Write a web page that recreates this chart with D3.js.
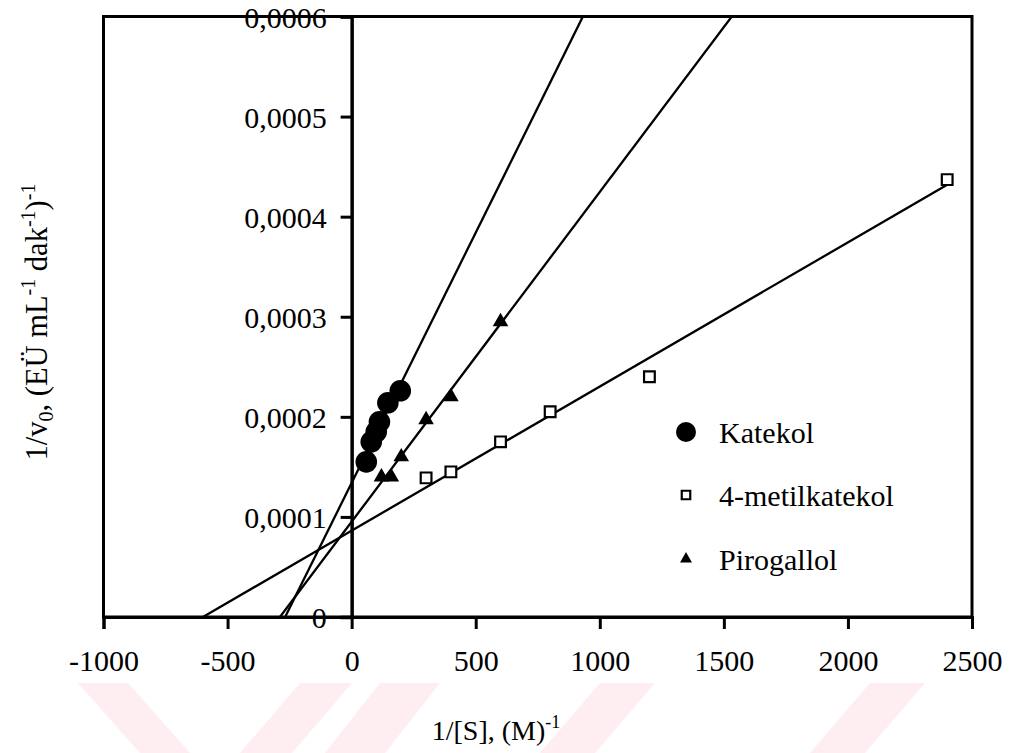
<!DOCTYPE html>
<html>
<head>
<meta charset="utf-8">
<script src="https://cdn.jsdelivr.net/npm/d3@7"></script>
<style>
  html, body { margin: 0; padding: 0; background: #ffffff; }
  svg { display: block; }
  text { font-family: "Liberation Serif", "Times New Roman", serif; fill: #000; }
</style>
</head>
<body>
<svg id="chart" width="1018" height="753"></svg>
<script>
// ---------- data ----------
const seriesNames = ["Katekol", "4-metilkatekol", "Pirogallol"];

const katekolX = [59, 79, 99, 112, 146, 196];
const katekolY = [0.000155, 0.000175, 0.000185, 0.000195, 0.000214, 0.000226];

const metilX = [300, 400, 600, 800, 1200, 2400];
const metilY = [0.000139, 0.000145, 0.000175, 0.000205, 0.000240, 0.000437];

const piroX = [120, 160, 200, 300, 400, 600];
const piroY = [0.000140, 0.000140, 0.000160, 0.000197, 0.000220, 0.000295];

// fitted Lineweaver-Burk lines (intercept, slope)
const lineIntercepts = [0.000134, 0.0000863, 0.0000952];
const lineSlopes = [5.0e-7, 1.44e-7, 3.295e-7];
const lineEndX = [2400, 2400, 2400];

const xTicks = [-1000, -500, 0, 500, 1000, 1500, 2000, 2500];
const xTickLabels = ["-1000", "-500", "0", "500", "1000", "1500", "2000", "2500"];
const yTicks = [0, 0.0001, 0.0002, 0.0003, 0.0004, 0.0005, 0.0006];
const yTickLabels = ["0", "0,0001", "0,0002", "0,0003", "0,0004", "0,0005", "0,0006"];

// ---------- layout ----------
const svg = d3.select("#chart");
const M = { left: 103.5, right: 972, top: 16.5, bottom: 617 };

const x = d3.scaleLinear().domain([-1000, 2500]).range([M.left, M.right]);
const y = d3.scaleLinear().domain([0, 0.0006]).range([M.bottom, M.top]);

// ---------- watermark (faint background decoration) ----------
const wm = svg.append("g").attr("fill", "#feeef1");
[
  [[78,683],[128,683],[190,753],[140,753]],
  [[300,683],[352,683],[292,753],[240,753]],
  [[380,683],[440,683],[385,753],[325,753]],
  [[600,683],[655,683],[595,753],[540,753]],
  [[870,683],[925,683],[865,753],[810,753]]
].forEach(p => wm.append("polygon").attr("points", p.map(d => d.join(",")).join(" ")));

// ---------- frame ----------
svg.append("rect")
  .attr("x", M.left).attr("y", M.top)
  .attr("width", M.right - M.left).attr("height", M.bottom - M.top)
  .attr("fill", "none").attr("stroke", "#000").attr("stroke-width", 3);

// x axis ticks (down)
const xAxis = d3.axisBottom(x).tickValues(xTicks)
  .tickFormat((d, i) => xTickLabels[i]).tickSize(12).tickPadding(21);
const gx = svg.append("g").attr("transform", `translate(0,${M.bottom})`).call(xAxis);
gx.select(".domain").attr("stroke-width", 3);
gx.selectAll(".tick line").attr("stroke-width", 3);
gx.selectAll(".tick text").attr("font-size", 30)
  .attr("font-family", "'Liberation Serif', 'Times New Roman', serif");

// y axis at x = 0
const yAxis = d3.axisLeft(y).tickValues(yTicks)
  .tickFormat((d, i) => yTickLabels[i]).tickSize(11).tickPadding(14);
const gy = svg.append("g").attr("transform", `translate(${x(0)},0)`).call(yAxis);
gy.select(".domain").attr("stroke-width", 3.5);
gy.selectAll(".tick line").attr("stroke-width", 3);
gy.selectAll(".tick text").attr("font-size", 30).attr("dy", "0.36em")
  .attr("font-family", "'Liberation Serif', 'Times New Roman', serif");

// ---------- regression lines ----------
svg.append("clipPath").attr("id", "plotclip").append("rect")
  .attr("x", M.left).attr("y", M.top).attr("width", M.right - M.left).attr("height", M.bottom - M.top);

const lineData = lineIntercepts.map((b, i) => {
  const x0 = -b / lineSlopes[i];
  const x1 = lineEndX[i];
  return [[x0, 0], [x1, b + lineSlopes[i] * x1]];
});
svg.append("g").attr("clip-path", "url(#plotclip)")
  .selectAll("path").data(lineData).join("path")
  .attr("d", d3.line().x(d => x(d[0])).y(d => y(d[1])))
  .attr("fill", "none").attr("stroke", "#000").attr("stroke-width", 2.3);

// ---------- markers ----------
const katekol = katekolX.map((v, i) => [v, katekolY[i]]);
const metil = metilX.map((v, i) => [v, metilY[i]]);
const piro = piroX.map((v, i) => [v, piroY[i]]);

svg.append("g").selectAll("path").data(piro).join("path")
  .attr("transform", d => `translate(${x(d[0])},${y(d[1])})`)
  .attr("d", d3.symbol(d3.symbolTriangle, 105)())
  .attr("fill", "#000");

svg.append("g").selectAll("path").data(metil).join("path")
  .attr("transform", d => `translate(${x(d[0])},${y(d[1])})`)
  .attr("d", d3.symbol(d3.symbolSquare, 115)())
  .attr("fill", "#fff").attr("stroke", "#000").attr("stroke-width", 2.2);

svg.append("g").selectAll("circle").data(katekol).join("circle")
  .attr("cx", d => x(d[0])).attr("cy", d => y(d[1])).attr("r", 10.8)
  .attr("fill", "#000");

// ---------- legend ----------
const legend = svg.append("g").attr("transform", "translate(686,0)");
const legendY = [432, 495, 559];
legend.append("circle").attr("cx", 0).attr("cy", legendY[0]).attr("r", 10).attr("fill", "#000");
legend.append("path").attr("transform", `translate(0,${legendY[1]})`)
  .attr("d", d3.symbol(d3.symbolSquare, 72)())
  .attr("fill", "#fff").attr("stroke", "#000").attr("stroke-width", 2.2);
legend.append("path").attr("transform", `translate(0,${legendY[2]})`)
  .attr("d", d3.symbol(d3.symbolTriangle, 62)()).attr("fill", "#000");
seriesNames.forEach((n, i) => {
  legend.append("text").attr("x", 33).attr("y", legendY[i] + 11)
    .attr("font-size", 30).text(n);
});

// ---------- axis titles ----------
const xt = svg.append("text").attr("x", 496).attr("y", 740)
  .attr("text-anchor", "middle").attr("font-size", 28);
xt.append("tspan").text("1/[S], (M)");
xt.append("tspan").attr("font-size", 18).attr("dy", -12).text("-1");

const yt = svg.append("text")
  .attr("transform", "translate(47,322) rotate(-90)")
  .attr("text-anchor", "middle").attr("font-size", 30.5);
yt.append("tspan").text("1/v");
yt.append("tspan").attr("font-size", 20).attr("dy", 6).text("0");
yt.append("tspan").attr("dy", -6).text(", (EÜ mL");
yt.append("tspan").attr("font-size", 20).attr("dy", -12).text("-1");
yt.append("tspan").attr("dy", 12).text(" dak");
yt.append("tspan").attr("font-size", 20).attr("dy", -12).text("-1");
yt.append("tspan").attr("dy", 12).text(")");
yt.append("tspan").attr("font-size", 20).attr("dy", -12).text("-1");
</script>
</body>
</html>
